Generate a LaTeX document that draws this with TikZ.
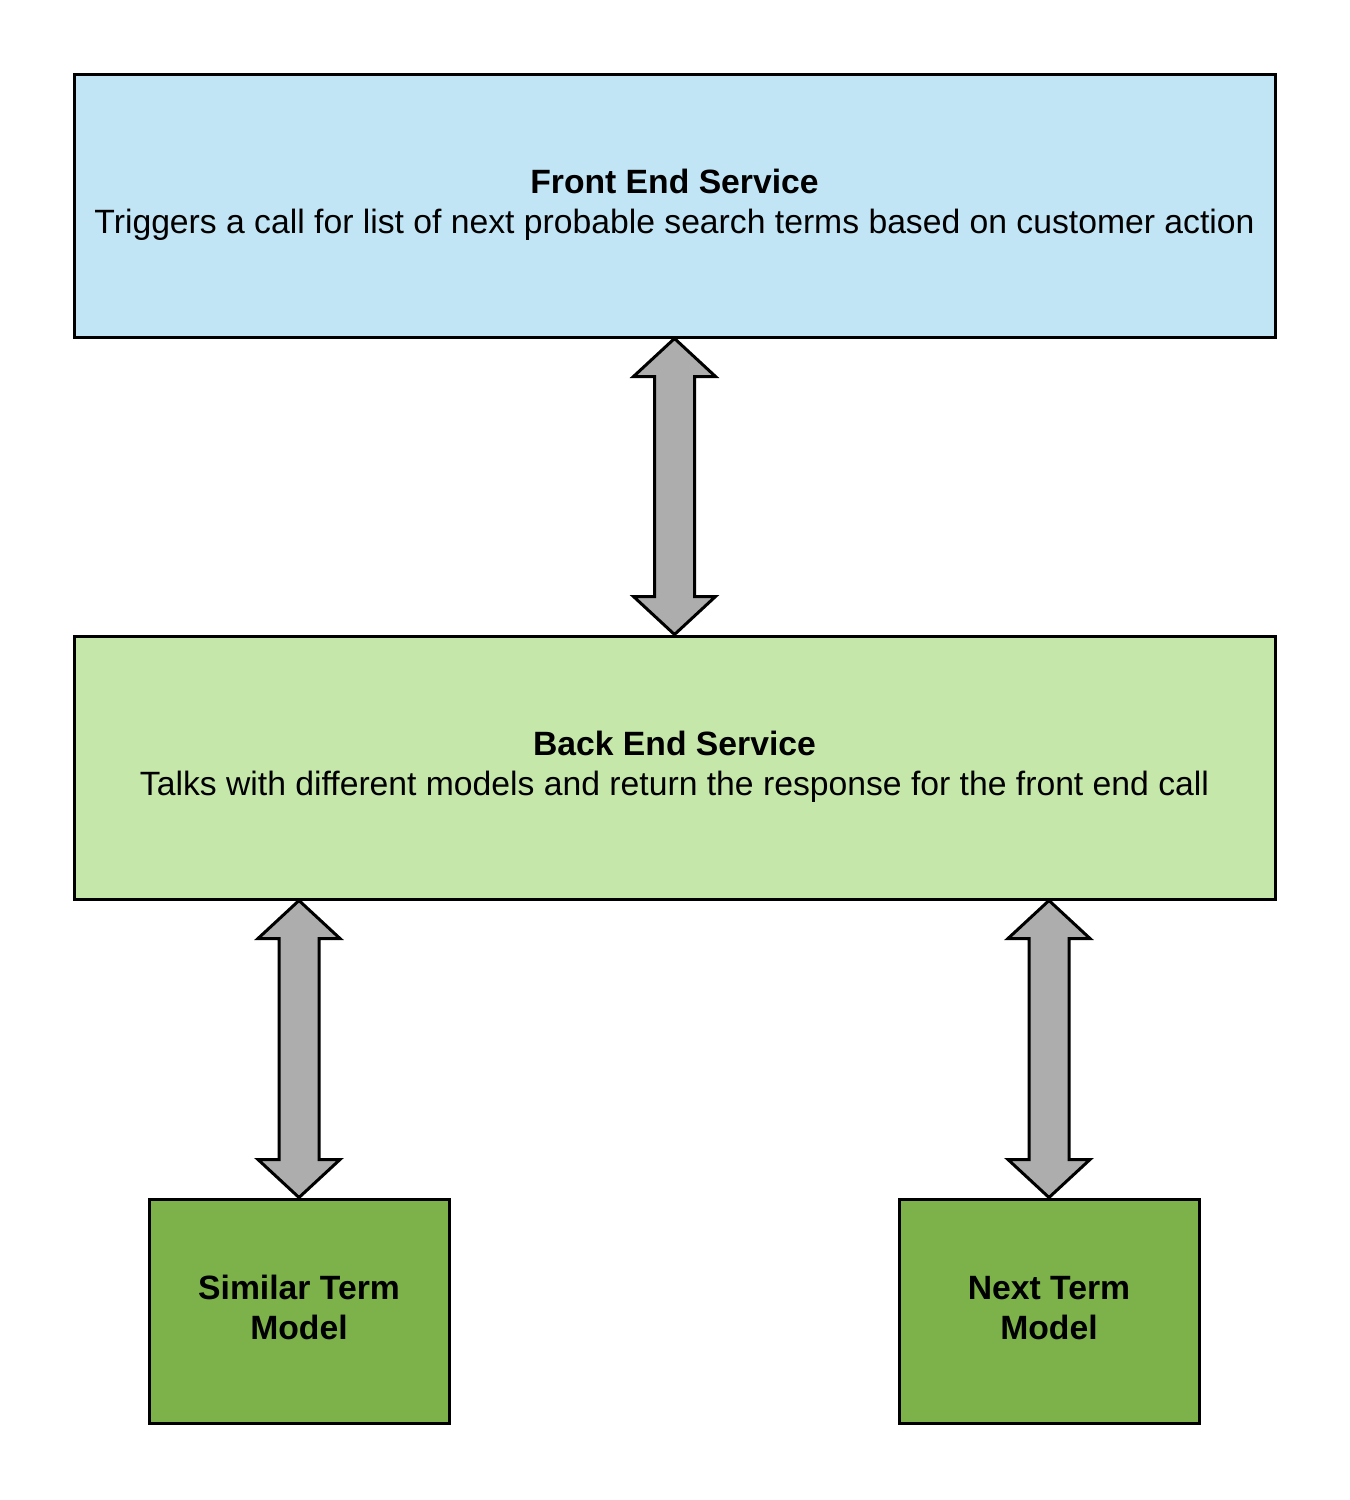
\documentclass[tikz,border=0pt]{standalone}
\usepackage{fontspec}
\setmainfont{Liberation Sans}
\usetikzlibrary{calc}
\definecolor{feblue}{HTML}{C2E5F5}
\definecolor{begreen}{HTML}{C6E7AA}
\definecolor{modgreen}{HTML}{7DB24A}
\definecolor{arrgray}{HTML}{ADADAD}
\newcommand\dblarrow[2]{%
  \draw[dblarr] let \p1=(#1), \p2=(#2) in
    (\x1,\y1) -- (\x1+41pt,\y1-38pt) -- (\x1+20pt,\y1-38pt) -- (\x1+20pt,\y2+38pt)
    -- (\x1+41pt,\y2+38pt) -- (\x1,\y2) -- (\x1-41pt,\y2+38pt) -- (\x1-20pt,\y2+38pt)
    -- (\x1-20pt,\y1-38pt) -- (\x1-41pt,\y1-38pt) -- cycle;}
\begin{document}
\begin{tikzpicture}[x=1pt,y=-1pt,
  box/.style={draw=black, line width=3pt, align=center, inner sep=0pt,
    font=\fontsize{33.7}{40}\selectfont},
  wide/.style={box, minimum width=1201pt, minimum height=263pt},
  model/.style={box, minimum width=300pt, minimum height=224pt, fill=modgreen, font=\fontsize{33.7}{40}\selectfont\bfseries},
  dblarr/.style={draw=black, line width=3pt, fill=arrgray}]
\useasboundingbox (0,0) rectangle (1350,1500);
\node[wide, fill=feblue] (front) at (674.5,205.5)
  {\raisebox{2.5pt}{\begin{tabular}{@{}c@{}}\textbf{Front End Service}\\Triggers a call for list of next probable search terms based on customer action\end{tabular}}};
\node[wide, fill=begreen] (back) at (674.5,767.5)
  {\raisebox{2.5pt}{\begin{tabular}{@{}c@{}}\textbf{Back End Service}\\Talks with different models and return the response for the front end call\end{tabular}}};
\node[model] (sim) at (299,1311) {\raisebox{3pt}{\begin{tabular}{@{}c@{}}Similar Term\\Model\end{tabular}}};
\node[model] (next) at (1049,1311) {\raisebox{3pt}{\begin{tabular}{@{}c@{}}Next Term\\Model\end{tabular}}};
\dblarrow{front.south}{back.north}
\dblarrow{sim.north |- back.south}{sim.north}
\dblarrow{next.north |- back.south}{next.north}
\end{tikzpicture}
\end{document}
